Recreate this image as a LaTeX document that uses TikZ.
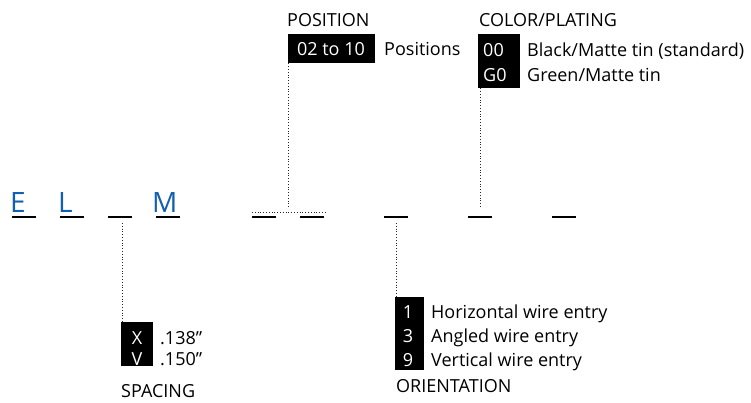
\documentclass[tikz,border=0pt]{standalone}
\usepackage{fontspec}
\setmainfont{Open Sans}
\definecolor{elmblue}{RGB}{18,94,178}
\begin{document}
\begin{tikzpicture}[x=1pt,y=-1pt,
  txt/.style={inner sep=0pt, font=\fontsize{18}{21}\selectfont, text height=12.9pt, text depth=0pt, anchor=west},
  wtxt/.style={txt, text=white},
  wctr/.style={txt, text=white, anchor=center},
  blk/.style={fill=black, inner sep=0pt, anchor=north west},
  bar/.style={line width=2pt},
  dots/.style={dotted, line width=0.8pt, black!85},
  code/.style={inner sep=0pt, font=\fontsize{28}{32}\selectfont, text=elmblue, anchor=base west}]
\useasboundingbox (0,0) rectangle (751,403);

% code letters
\node[code] (cE) at (10,213) {E};
\node[code] (cL) at (58,213) {L};
\node[code] (cM) at (152,213) {M};

% blanks
\foreach \a/\n in {12/b1,60/b2,108/b3,156/b4,252/b5,300/b6,384/b7,468/b8,552/b9}{
  \coordinate (\n l) at (\a,217);
  \coordinate (\n r) at (\a+24,217);
  \draw[bar] (\n l) -- (\n r);
}

% POSITION
\node[txt] (postitle) at (287,20) {POSITION};
\node[blk, minimum width=87pt, minimum height=29pt] (posbox) at (288,34) {};
\node[wctr] (poscode) at (331,49) {02 to 10};
\node[txt] (posdesc) at (384,49) {Positions};
\coordinate (posj) at (288,208);
\coordinate (posl) at (252,212);
\coordinate (posr) at (325,212);
\draw[dots] (posbox.south west) -- (posj);
\draw[dots] (posl) -- (posr);

% COLOR/PLATING
\node[txt] (coltitle) at (479,20) {COLOR/PLATING};
\node[blk, minimum width=42pt, minimum height=54pt] (colbox) at (478,34) {};
\node[wtxt] (col1) at (483,50) {00};
\node[wtxt] (col2) at (483,75) {G0};
\node[txt] (col1d) at (527,50) {Black/Matte tin (standard)};
\node[txt] (col2d) at (527,75) {Green/Matte tin};
\coordinate (colj) at (480,208);
\draw[dots] ([xshift=2pt]colbox.south west) -- (colj);

% SPACING
\node[blk, minimum width=32pt, minimum height=44pt] (spbox) at (121,322) {};
\node[wctr] (sp1) at (137,338) {X};
\node[wctr] (sp2) at (137,359) {V};
\node[txt] (sp1d) at (160,338) {.138”};
\node[txt] (sp2d) at (160,359) {.150”};
\node[txt] (sptitle) at (121,391) {SPACING};
\coordinate (spj) at (122,223);
\draw[dots] (spj) -- ([xshift=1pt]spbox.north west);

% ORIENTATION
\node[blk, minimum width=29pt, minimum height=73pt] (orbox) at (395,297) {};
\node[wctr] (or1) at (408,312) {1};
\node[wctr] (or2) at (408,336) {3};
\node[wctr] (or3) at (408,360) {9};
\node[txt] (or1d) at (431,312) {Horizontal wire entry};
\node[txt] (or2d) at (431,336) {Angled wire entry};
\node[txt] (or3d) at (431,360) {Vertical wire entry};
\node[txt] (ortitle) at (396,386) {ORIENTATION};
\coordinate (orj) at (396,223);
\draw[dots] (orj) -- ([xshift=1pt]orbox.north west);
\end{tikzpicture}
\end{document}
